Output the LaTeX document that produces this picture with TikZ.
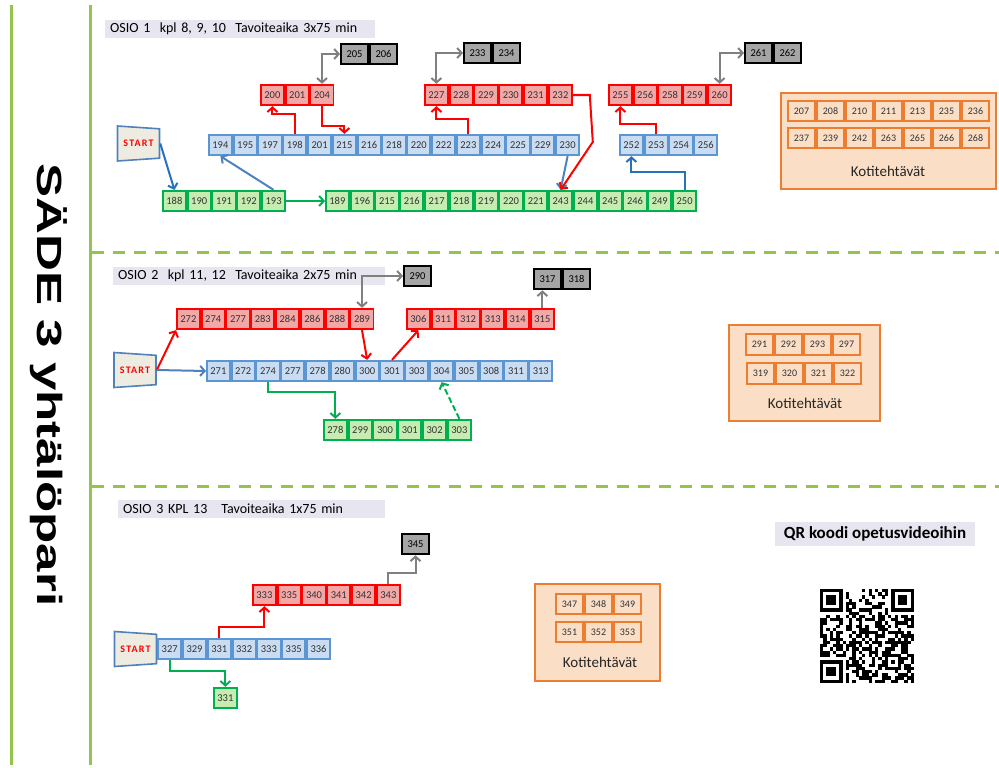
\documentclass[tikz,border=0pt]{standalone}
\usepackage{graphicx}
\usepackage{fontspec}
\setmainfont{Carlito}
\newfontfamily\titlefont{Liberation Sans}
\newfontfamily\startfont[LetterSpace=12]{Carlito}
\usetikzlibrary{shapes.geometric, arrows.meta, positioning, calc}
\definecolor{cRed}{RGB}{255,0,0}
\definecolor{cRedFill}{RGB}{243,168,168}
\definecolor{cBlue}{RGB}{91,150,210}
\definecolor{cBlueFill}{RGB}{201,220,241}
\definecolor{cGreen}{RGB}{0,176,80}
\definecolor{cGreenFill}{RGB}{198,236,178}
\definecolor{cGrayFill}{RGB}{165,165,165}
\definecolor{cOrange}{RGB}{237,125,49}
\definecolor{cOrangeFill}{RGB}{251,222,198}
\definecolor{cLine}{RGB}{146,196,78}
\definecolor{cLabel}{RGB}{231,229,240}
\definecolor{cStart}{RGB}{238,236,225}
\definecolor{cArrBlue}{RGB}{36,114,190}
\definecolor{cArrSteel}{RGB}{79,129,189}
\definecolor{cArrGray}{RGB}{128,128,128}
\tikzset{
	cell/.style      ={rectangle, line width=1.8pt, minimum width=23pt, minimum height=20.5pt, inner sep=0pt, text=black!80, font=\fontsize{10.5}{12}\selectfont},
	redcell/.style   ={cell, draw=cRed, fill=cRedFill},
	bluecell/.style  ={cell, draw=cBlue, fill=cBlueFill},
	greencell/.style ={cell, draw=cGreen, fill=cGreenFill},
	graycell/.style  ={cell, draw=black, fill=cGrayFill, line width=2pt, minimum width=27pt, text=black},
	orangecell/.style={cell, draw=cOrange, fill=cOrangeFill, minimum width=27.2pt, font=\fontsize{10}{12}\selectfont},
	kotibox/.style   ={rectangle, draw=cOrange, fill=cOrangeFill, line width=1.8pt},
	kotitext/.style  ={font=\fontsize{15}{17}\selectfont, text=black!85},
	startnode/.style ={trapezium, trapezium left angle=81, trapezium right angle=81, shape border rotate=270, trapezium stretches=true, draw=cArrSteel, line width=1.6pt, fill=cStart, minimum width=35pt, minimum height=42pt, inner sep=0pt, text=cRed, font=\startfont\bfseries\fontsize{10}{11}\selectfont},
	osiolabel/.style ={rectangle, fill=cLabel, anchor=west, minimum height=18pt, inner xsep=5pt, inner ysep=1pt, align=left, font=\fontsize{14}{16}\selectfont},
	titletext/.style ={rotate=-90, anchor=base, font=\titlefont\bfseries\fontsize{35}{35}\selectfont},
	frameline/.style ={cLine, line width=3pt},
	sepline/.style   ={cLine, line width=3pt, dash pattern=on 12pt off 9pt},
	% connectors
	arr/.style       ={line width=2pt, -{Straight Barb[length=4.5pt, width=10pt]}},
	redarr/.style    ={arr, cRed},
	bluearr/.style   ={arr, cArrBlue},
	steelarr/.style  ={arr, cArrSteel},
	greenarr/.style  ={arr, cGreen},
	grayarr/.style   ={arr, cArrGray},
	twoway/.style    ={grayarr, {Straight Barb[length=4.5pt, width=10pt]}-{Straight Barb[length=4.5pt, width=10pt]}},
}
% row of cells: style, name, west point, numbers
\newcommand{\cellrow}[4]{%
	\foreach \n [count=\i] in {#4}{%
		\ifnum\i=1
			\node[#1, anchor=west] (#2-1) at (#3) {\n};
		\else
			\pgfmathtruncatemacro{\k}{\i-1}%
			\node[#1, right=0pt of #2-\k] (#2-\i) {\n};
		\fi
	}%
}

\begin{document}
\begin{tikzpicture}[x=1pt, y=-1pt]
	\useasboundingbox (0,0) rectangle (999,768);
	% frame and title
	\draw[frameline] (11,5) -- (11,765) (90,5) -- (90,765);
	\draw[sepline] (92,252) -- (999,252) (92,486) -- (999,486);
	\node[titletext] (title) at (37,385) {\scalebox{1.46}[1]{SÄDE 3 yhtälöpari}};

	% OSIO 1
	\node[osiolabel, text width=260pt] (osio1) at (105,29) {OSIO 1\ \ kpl 8, 9, 10\ \ Tavoiteaika 3x75 min};
	\node[startnode] (start1) at (138.5,143.5) {\makebox[4pt]{START}};
	\cellrow{graycell}{Agray}{340,54}{205,206}
	\cellrow{graycell}{Agray2}{463,53}{233,234}
	\cellrow{graycell}{Agray3}{744,53}{261,262}
	\cellrow{redcell}{Ared}{260,95}{200,201,204}
	\cellrow{redcell}{Ared2}{424,95}{227,228,229,230,231,232}
	\cellrow{redcell}{Ared3}{608,95}{255,256,258,259,260}
	\cellrow{bluecell}{Ablue}{208,145}{194,195,197,198,201,215,216,218,220,222,223,224,225,229,230}
	\cellrow{bluecell}{Ablue2}{619,145}{252,253,254,256}
	\cellrow{greencell}{Agreen}{162,201}{188,190,191,192,193}
	\cellrow{greencell}{Agreen2}{325,201}{189,196,215,216,217,218,219,220,221,243,244,245,246,249,250}
	\node[kotibox, minimum width=215pt, minimum height=96pt] (koti1) at (888.5,141) {};
	\cellrow{orangecell}{Akoti}{787,111}{207,208,210,211,213,235,236}
	\cellrow{orangecell}{Akoti2}{787,138}{237,239,242,263,265,266,268}
	\node[kotitext] (koti1text) at (888,171) {Kotitehtävät};

	\draw[bluearr] (start1.east) -- (Agreen-1.north);
	\draw[steelarr] (Agreen-5.north) -- (Ablue-1.south);
	\draw[greenarr] (Agreen-5.east) -- (Agreen2-1.west);
	\draw[redarr] (Ablue-4.north) -- ++(0,-20) -| (Ared-1.south);
	\draw[redarr] (Ared-3.south) -- ++(0,20) -| (Ablue-6.north);
	\draw[twoway] (Agray-1.west) -| (Ared-3.north);
	\draw[twoway] (Agray2-1.west) -| (Ared2-1.north);
	\draw[redarr] (Ablue-11.north) -- ++(0,-15) -| (Ared2-1.south);
	\draw[steelarr] (Ablue-15.south) -- (Agreen2-10.north);
	\draw[redarr] (Ared2-6.east) -- ++(17,0) -- ++(3,47) -- (Agreen2-10.north);
	\draw[bluearr] (Agreen2-15.north) -- ++(0,-18) -| (Ablue2-1.south);
	\draw[redarr] (Ablue2-2.north) -- ++(0,-10) -| (Ared3-1.south);
	\draw[twoway] (Agray3-1.west) -| (Ared3-5.north);

	% OSIO 2
	\node[osiolabel, text width=262pt] (osio2) at (113,276) {OSIO 2\ \ kpl 11, 12\ \ Tavoiteaika 2x75 min};
	\node[startnode] (start2) at (135,370) {\makebox[4pt]{START}};
	\cellrow{graycell}{Bgray}{403,276}{290}
	\cellrow{graycell}{Bgray2}{533,279}{317,318}
	\cellrow{redcell}{Bred}{176,319}{272,274,277,283,284,286,288,289}
	\cellrow{redcell}{Bred2}{406,319}{306,311,312,313,314,315}
	\cellrow{bluecell}{Bblue}{206,371}{271,272,274,277,278,280,300,301,303,304,305,308,311,313}
	\cellrow{greencell}{Bgreen}{323,430}{278,299,300,301,302,303}
	\node[kotibox, minimum width=151pt, minimum height=96pt] (koti2) at (804.5,373) {};
	\cellrow{orangecell}{Bkoti}{745,344.5}{291,292,293,297}
	\cellrow{orangecell}{Bkoti2}{746,373.5}{319,320,321,322}
	\node[kotitext] (koti2text) at (805,403) {Kotitehtävät};

	\draw[redarr] (start2.east) -- (Bred-1.south west);
	\draw[steelarr] (start2.east) -- (Bblue-1.west);
	\draw[twoway] (Bgray-1.west) -| (Bred-8.north);
	\draw[redarr] (Bred-8.south) -- (Bblue-7.north);
	\draw[redarr] (Bblue-8.north) -- (Bred2-1.south);
	\draw[grayarr] (Bred2-6.north) -- (Bred2-6.north |- Bgray2-1.south);
	\draw[greenarr] (Bblue-3.south) -- ++(0,10) -| (Bgreen-1.north);
	\draw[greenarr, dash pattern=on 6pt off 3pt] (Bgreen-6.north) -- (Bblue-10.south);

	% OSIO 3
	\node[osiolabel, text width=257pt] (osio3) at (118,508.5) {OSIO 3 KPL 13\ \ \ Tavoiteaika 1x75 min};
	\node[startnode] (start3) at (135.5,649) {\makebox[4pt]{START}};
	\cellrow{bluecell}{Cblue}{start3.east}{327,329,331,332,333,335,336}
	\cellrow{redcell}{Cred}{252,595}{333,335,340,341,342,343}
	\cellrow{graycell}{Cgray}{401,544}{345}
	\cellrow{greencell}{Cgreen}{213,698}{331}
	\node[kotibox, minimum width=125pt, minimum height=97pt] (koti3) at (597.5,632.5) {};
	\cellrow{orangecell}{Ckoti}{555,604}{347,348,349}
	\cellrow{orangecell}{Ckoti2}{555,632}{351,352,353}
	\node[kotitext] (koti3text) at (600,662) {Kotitehtävät};

	\draw[redarr] (Cblue-3.north) -- ++(0,-11) -| (Cred-1.south);
	\draw[grayarr] (Cred-6.north) -- ++(0,-11) -| (Cgray-1.south);
	\draw[greenarr] (Cblue-1.south) -- ++(0,11) -| (Cgreen-1.north);

	% QR code
	\node[fill=cLabel, minimum width=200pt, minimum height=24pt, font=\bfseries\fontsize{17}{19}\selectfont] (qrlabel) at (875,534) {QR koodi opetusvideoihin};
	\pgfmathsetseed{4}
	\foreach \r in {0,...,28}
	\foreach \c in {0,...,28}{
		\pgfmathtruncatemacro{\zone}{((\r<8)&&(\c<8))||((\r<8)&&(\c>20))||((\r>20)&&(\c<8))}
		\pgfmathtruncatemacro{\dark}{rnd<0.5}
		\ifnum\zone\dark=1 \fill ({820+3.24*\c},{589+3.24*\r}) rectangle ++(3.3,3.3);\fi
	}
	\foreach \qx/\qy in {0/0, 22/0, 0/22}{
		\fill ({820+3.24*\qx},{589+3.24*\qy}) rectangle ++(22.68,22.68);
		\fill[white] ({820+3.24*(\qx+1)},{589+3.24*(\qy+1)}) rectangle ++(16.2,16.2);
		\fill ({820+3.24*(\qx+2)},{589+3.24*(\qy+2)}) rectangle ++(9.72,9.72);
	}
	\fill ({820+3.24*20},{589+3.24*20}) rectangle ++(16.2,16.2);
	\fill[white] ({820+3.24*21},{589+3.24*21}) rectangle ++(9.72,9.72);
	\fill ({820+3.24*22},{589+3.24*22}) rectangle ++(3.24,3.24);
\end{tikzpicture}
\end{document}
